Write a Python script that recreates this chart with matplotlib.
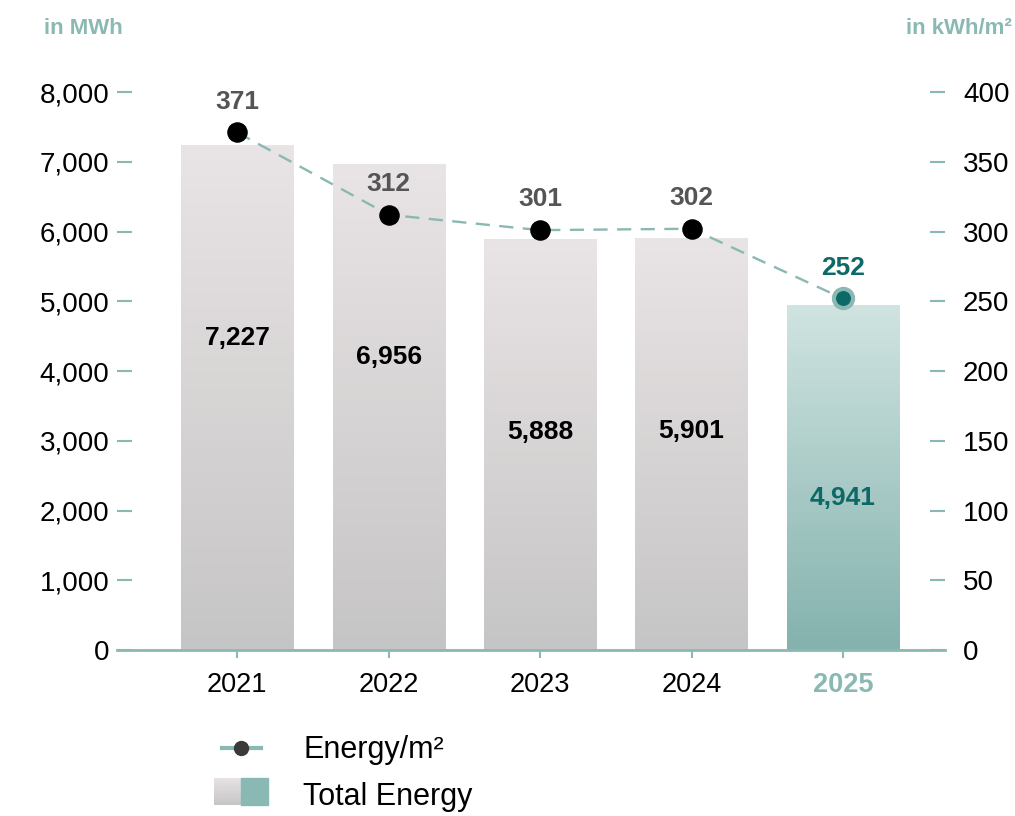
import numpy as np
import matplotlib
matplotlib.use("Agg")
import matplotlib.pyplot as plt
from matplotlib.lines import Line2D
from matplotlib.colors import LinearSegmentedColormap

plt.rcParams['font.family'] = ['Liberation Sans', 'DejaVu Sans']

years = ['2021', '2022', '2023', '2024', '2025']
total_mwh = [7227, 6956, 5888, 5901, 4941]
per_m2 = [371, 312, 301, 302, 252]

teal = '#8ab8b3'
dark_teal = '#0d6868'
grey_txt = '#555555'

grey_cmap = LinearSegmentedColormap.from_list('g', ['#c6c5c5', '#e9e4e5'])
teal_cmap = LinearSegmentedColormap.from_list('t', ['#84b2ad', '#d0e4e1'])

fig = plt.figure(figsize=(10.15, 8.16), dpi=100)
ax = fig.add_axes([0.1153, 0.2034, 0.8158, 0.6838])
ax2 = ax.twinx()

x = np.arange(len(years))
w = 0.74
grad = np.linspace(0, 1, 256).reshape(-1, 1)
for i, v in enumerate(total_mwh):
    cmap = teal_cmap if i == len(years) - 1 else grey_cmap
    ax.imshow(grad, cmap=cmap, origin='lower', aspect='auto',
              extent=(x[i] - w / 2, x[i] + w / 2, 0, v), zorder=1)
    col = dark_teal if i == len(years) - 1 else 'black'
    ax.text(x[i], v - 2760, f'{v:,}', ha='center', va='center',
            fontsize=19, fontweight='bold', color=col)

ax.set_xlim(-0.795, 4.675)
ax.set_ylim(0, 8000)
ax2.set_ylim(0, 400)

ax2.plot(x, per_m2, color=teal, lw=1.7, dashes=(6, 4), zorder=2)
ax2.scatter(x[:-1], per_m2[:-1], s=190, color='black', zorder=3)
ax2.scatter(x[-1:], per_m2[-1:], s=190, color=dark_teal, edgecolors=teal,
            linewidths=3, zorder=3)
for i, v in enumerate(per_m2):
    col = dark_teal if i == len(years) - 1 else grey_txt
    ax2.text(x[i], v + 22, str(v), ha='center', va='center',
             fontsize=19, fontweight='bold', color=col)

for a in (ax, ax2):
    for s in ('top', 'left', 'right'):
        a.spines[s].set_visible(False)
ax.spines['bottom'].set_color(teal)
ax.spines['bottom'].set_linewidth(2)
ax2.spines['bottom'].set_visible(False)

ax.set_yticks(range(0, 8001, 1000))
ax.set_yticklabels([f'{t:,}' for t in range(0, 8001, 1000)])
ax.tick_params(axis='y', direction='in', length=11, width=1.5, color=teal,
               labelsize=20, pad=5.5)
ax2.set_yticks(range(0, 401, 50))
ax2.tick_params(axis='y', direction='in', length=11, width=1.5, color=teal,
                labelsize=20, pad=13)
ax.set_xticks(x)
ax.set_xticklabels(years)
ax.tick_params(axis='x', direction='out', length=6, width=1.5, color=teal,
               labelsize=19.5, pad=10)
last = ax.get_xticklabels()[-1]
last.set_color(teal)
last.set_fontweight('bold')

fig.text(44 / 1015, 1 - 28 / 816, 'in MWh', color=teal, fontsize=16,
         fontweight='bold', ha='left', va='center')
fig.text(1012 / 1015, 1 - 28 / 816, 'in kWh/m²', color=teal, fontsize=16,
         fontweight='bold', ha='right', va='center')

# legend
fig.add_artist(Line2D([222 / 1015, 261 / 1015], [1 - 748 / 816] * 2,
                      color=teal, lw=3, transform=fig.transFigure))
fig.add_artist(Line2D([241 / 1015], [1 - 748 / 816], marker='o', ms=10,
                      color='#3a3a3a', transform=fig.transFigure))
fig.text(303 / 1015, 1 - 750 / 816, 'Energy/m²', fontsize=22, va='center')
lax = fig.add_axes([214 / 1015, 1 - 805 / 816, 27 / 1015, 27 / 816])
lax.imshow(grad, cmap=grey_cmap, origin='lower', aspect='auto')
lax.axis('off')
fig.add_artist(plt.Rectangle((241 / 1015, 1 - 805 / 816), 27 / 1015, 27 / 816,
                             color=teal, transform=fig.transFigure))
fig.text(303 / 1015, 1 - 797 / 816, 'Total Energy', fontsize=22, va='center')

fig.savefig('out.png', dpi=100)
